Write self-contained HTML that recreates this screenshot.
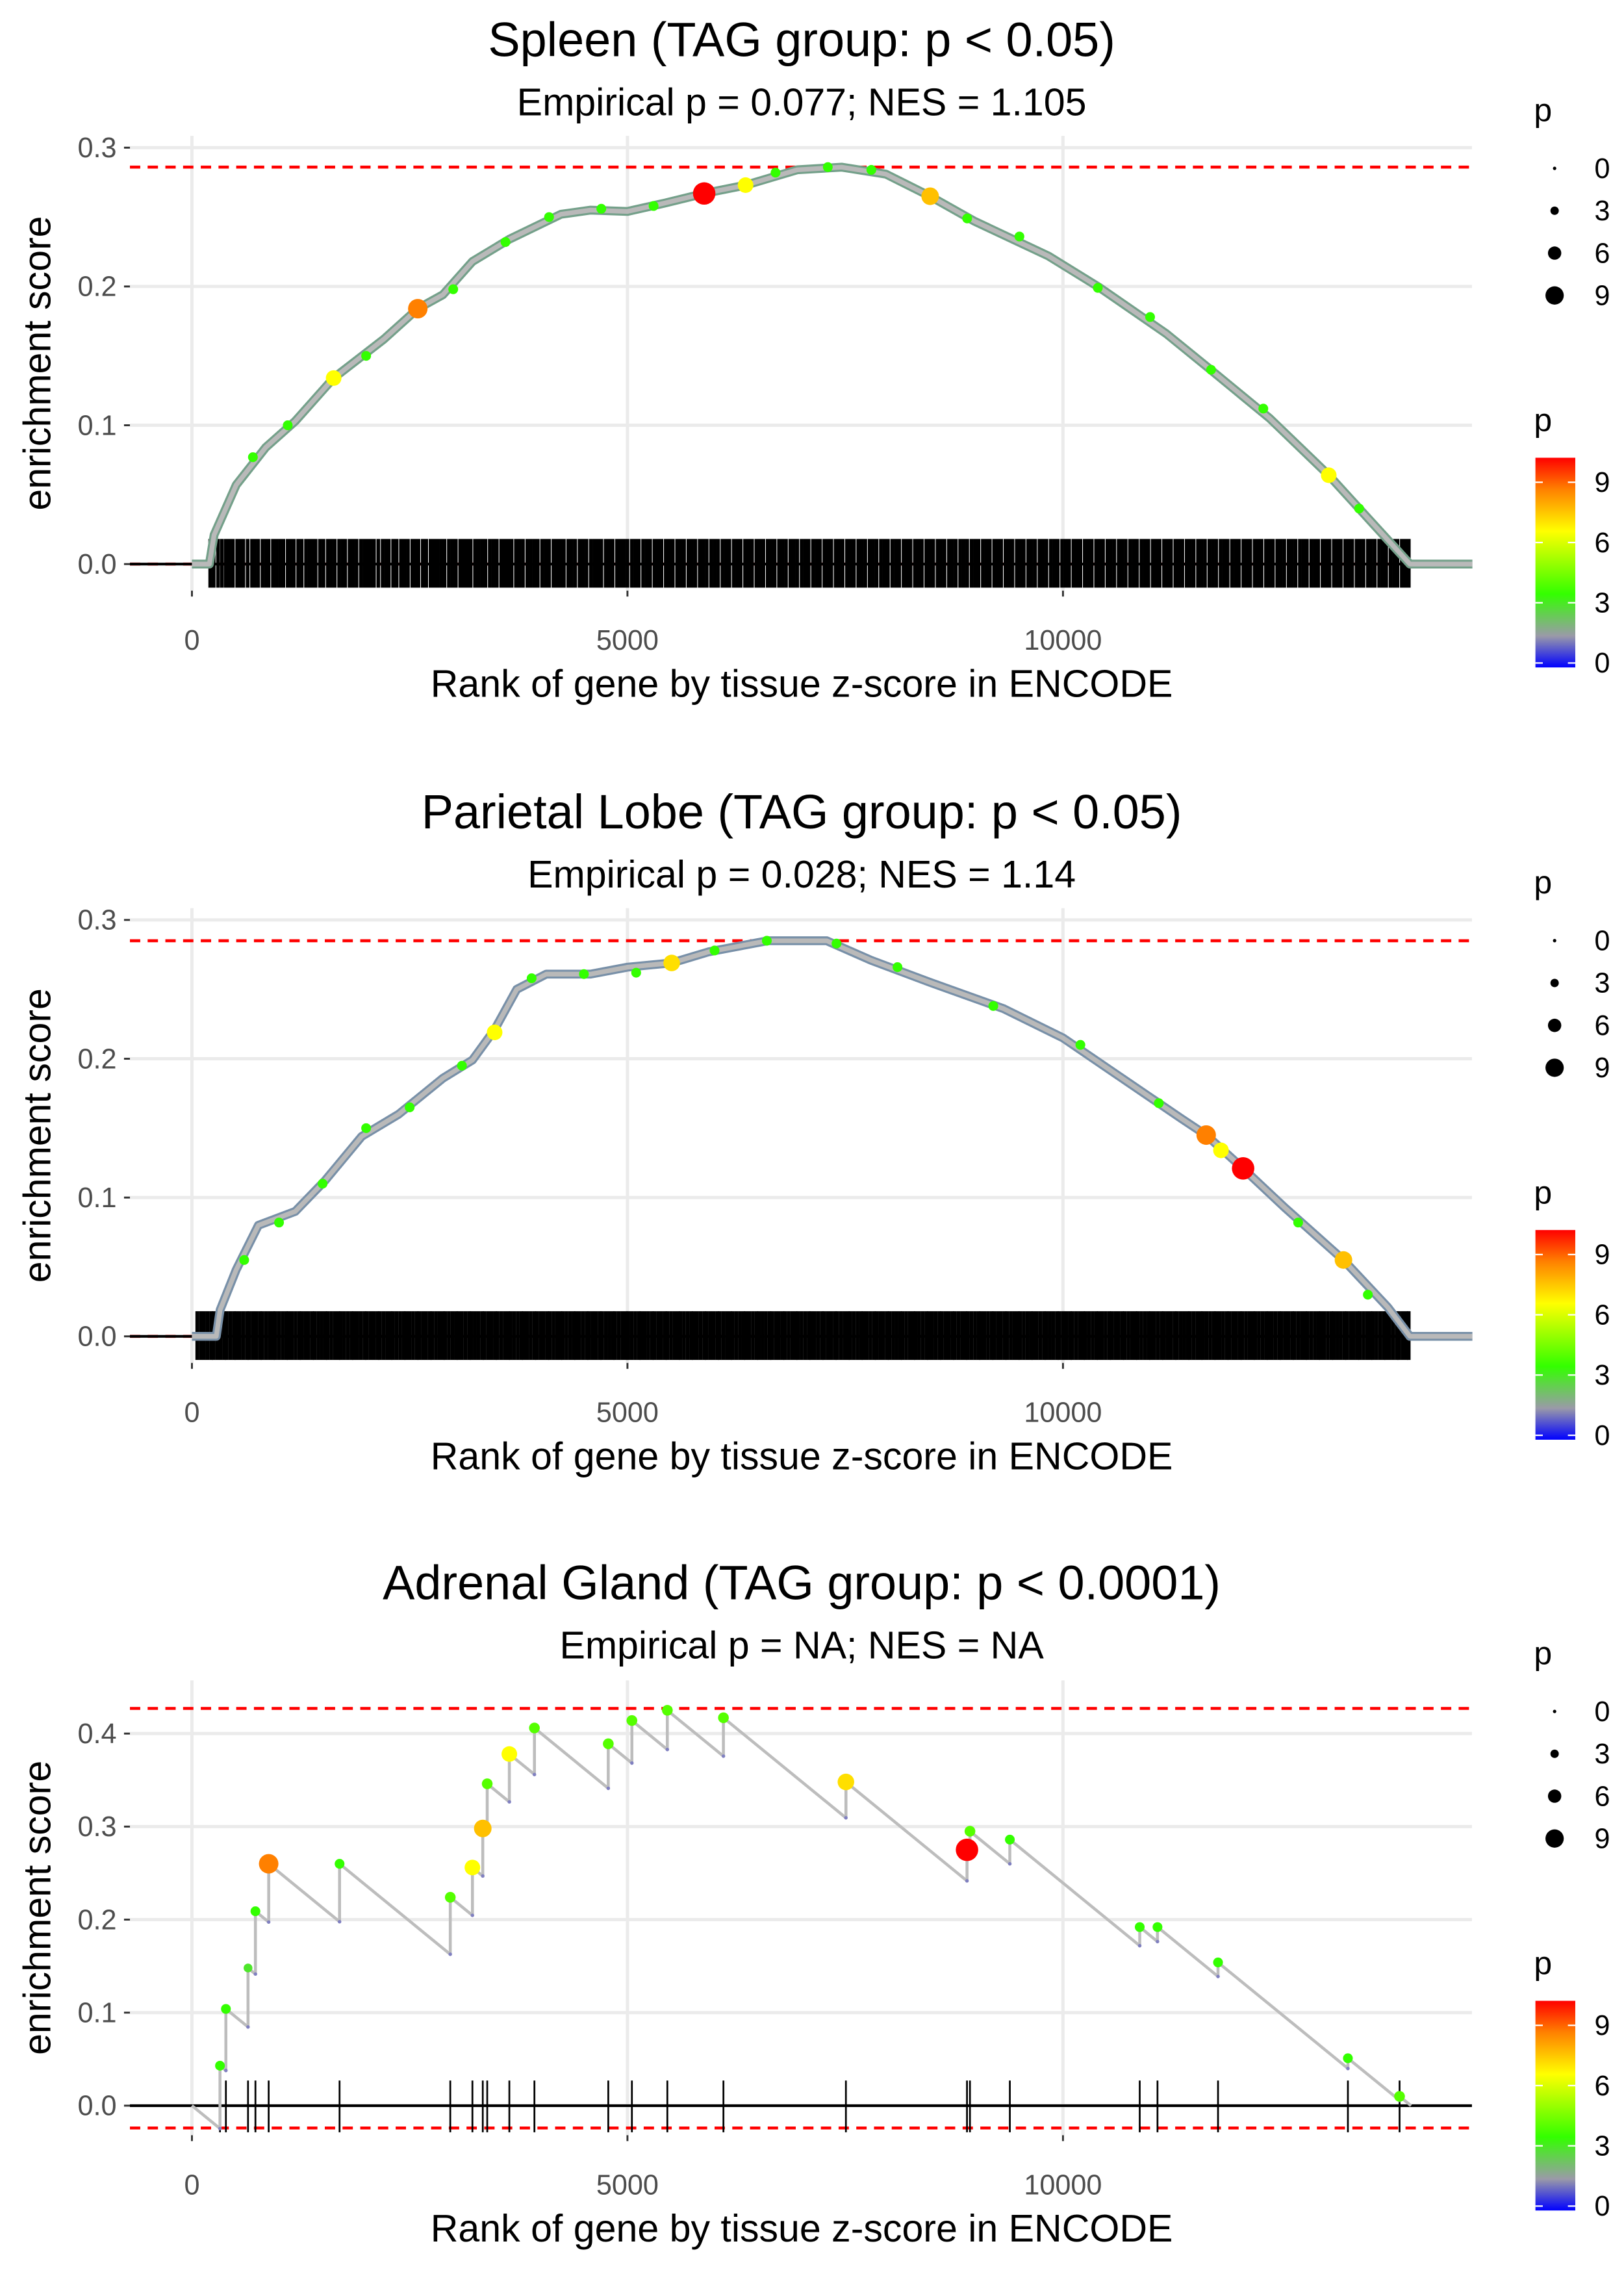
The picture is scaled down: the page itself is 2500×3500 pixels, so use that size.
<!DOCTYPE html>
<html><head><meta charset="utf-8">
<style>
html,body{margin:0;padding:0;background:#fff;}
svg{display:block;font-family:"Liberation Sans",Arial,sans-serif;}
</style></head>
<body>
<svg id="fig" width="2500" height="3500" viewBox="0 0 1100 1540" xmlns="http://www.w3.org/2000/svg">
<defs>
<linearGradient id="pgrad" x1="0" y1="1" x2="0" y2="0">
<stop offset="0" stop-color="#0000ff"/><stop offset="0.15" stop-color="#9a9aa8"/><stop offset="0.35" stop-color="#33ff00"/><stop offset="0.65" stop-color="#ffff00"/><stop offset="0.85" stop-color="#ff8000"/><stop offset="1" stop-color="#ff0000"/>
</linearGradient>
</defs>
</svg>
<script>
// ---------- Panel 1: Spleen ----------
const p1Ranks = [0,200,254,508,847,1186,1627,2203,2593,2881,3220,3644,4237,4576,5000,5424,5881,6356,6949,7458,7966,8475,8983,9831,10424,11186,11695,12373,13051,13559,13983,14700];
const p1ES    = [0,0,0.021,0.057,0.084,0.103,0.134,0.162,0.184,0.194,0.218,0.234,0.252,0.255,0.254,0.260,0.267,0.273,0.284,0.286,0.281,0.265,0.247,0.222,0.199,0.166,0.140,0.105,0.064,0.029,0,0];
const p1DotRanks = [1627,2593,5881,6356,8475,13051,700,1100,2000,3000,3600,4100,4700,5300,6700,7300,7800,8900,9500,10400,11000,11700,12300,13400];
const p1DotES    = [0.134,0.184,0.267,0.273,0.265,0.064,0.077,0.100,0.150,0.198,0.232,0.250,0.256,0.258,0.282,0.286,0.284,0.249,0.236,0.199,0.178,0.140,0.112,0.040];
const p1DotP     = [6.5,8.5,10,6.5,7.5,6.5,3.5,3.5,3.5,3.5,3.5,3.5,3.5,3.5,3.5,3.5,3.5,3.5,3.5,3.5,3.5,3.5,3.5,3.5];
const p1Hits = [210,250,300,345,390,430,470,520,560,590,640,690,720,760,810,850,880,930,970,1010,1050,1100,1140,1170,1220,1260,1310,1350,1390,1420,1470,1510,1560,1600,1640,1690,1730,1760,1810,1850,1890,1940,1980,2020,2060,2090,2140,2190,2230,2260,2310,2350,2400,2440,2480,2530,2570,2600,2650,2690,2740,2780,2820,2860,2900,2950,2990,3030,3080,3120,3160,3200,3250,3290,3330,3370,3420,3460,3500,3550,3590,3630,3670,3720,3760,3800,3850,3890,3930,3970,4020,4060,4100,4150,4190,4230,4270,4320,4360,4400,4450,4490,4530,4580,4620,4660,4700,4750,4790,4830,4880,4920,4960,5000,5050,5090,5130,5180,5220,5260,5310,5350,5390,5440,5480,5520,5570,5610,5650,5700,5740,5780,5830,5870,5910,5960,6000,6040,6090,6130,6170,6220,6260,6300,6350,6390,6430,6480,6520,6560,6610,6650,6690,6740,6780,6820,6870,6910,6950,7000,7040,7080,7130,7170,7210,7260,7300,7340,7390,7430,7470,7520,7560,7600,7650,7690,7730,7780,7820,7860,7910,7950,7990,8040,8080,8120,8170,8210,8250,8300,8340,8380,8430,8470,8510,8560,8600,8640,8690,8730,8770,8820,8860,8900,8950,8990,9030,9080,9120,9160,9210,9250,9290,9340,9380,9420,9470,9510,9550,9600,9640,9680,9730,9770,9810,9860,9900,9940,9990,10030,10070,10120,10160,10200,10250,10290,10330,10380,10420,10460,10510,10550,10590,10640,10680,10720,10770,10810,10850,10900,10940,10980,11030,11070,11110,11160,11200,11240,11290,11330,11370,11420,11460,11500,11550,11590,11630,11680,11720,11760,11810,11850,11890,11940,11980,12020,12070,12110,12150,12200,12240,12280,12330,12370,12410,12460,12500,12540,12590,12630,12670,12720,12760,12800,12850,12890,12930,12980,13020,13060,13110,13150,13190,13240,13280,13320,13370,13410,13450,13500,13540,13580,13630,13670,13710,13760,13800,13840,13890,13930,13970];

// ---------- Panel 2: Parietal Lobe ----------
const p2Ranks = [0,280,324,508,763,1186,1525,1949,2373,2881,3220,3475,3729,4068,4576,5000,5508,5932,6610,7288,7797,8475,9322,10000,10678,11356,11644,12068,12542,13220,13729,13983,14700];
const p2ES    = [0,0,0.019,0.048,0.080,0.090,0.112,0.144,0.160,0.186,0.199,0.221,0.250,0.261,0.261,0.266,0.269,0.277,0.285,0.285,0.271,0.255,0.236,0.215,0.186,0.157,0.145,0.121,0.093,0.055,0.021,0,0];
const p2DotRanks = [3475,5508,11644,11814,12068,13220,600,1000,1500,2000,2500,3100,3900,4500,5100,6000,6600,7400,8100,9200,10200,11100,12700,13500];
const p2DotES    = [0.219,0.269,0.145,0.134,0.121,0.055,0.055,0.082,0.110,0.150,0.165,0.195,0.258,0.261,0.262,0.278,0.285,0.283,0.266,0.238,0.210,0.168,0.082,0.030];
const p2DotP     = [6.5,7,8.5,6.5,10,7.5,3.5,3.5,3.5,3.5,3.5,3.5,3.5,3.5,3.5,3.5,3.5,3.5,3.5,3.5,3.5,3.5,3.5,3.5];
const p2Hits = [60,100,140,180,220,250,290,330,370,400,440,480,510,550,590,630,660,700,740,780,810,850,890,930,960,1000,1040,1080,1110,1150,1190,1230,1260,1300,1340,1380,1410,1450,1490,1530,1560,1600,1640,1680,1710,1750,1790,1830,1860,1900,1940,1980,2010,2050,2090,2130,2160,2200,2240,2280,2310,2350,2390,2430,2460,2500,2540,2580,2610,2650,2690,2730,2760,2800,2840,2880,2910,2950,2990,3030,3060,3100,3140,3180,3210,3250,3290,3330,3360,3400,3440,3480,3510,3550,3590,3630,3660,3700,3740,3780,3810,3850,3890,3930,3960,4000,4040,4080,4110,4150,4190,4230,4260,4300,4340,4380,4410,4450,4490,4530,4560,4600,4640,4680,4710,4750,4790,4830,4860,4900,4940,4980,5010,5050,5090,5130,5160,5200,5240,5280,5310,5350,5390,5430,5460,5500,5540,5580,5610,5650,5690,5730,5760,5800,5840,5880,5910,5950,5990,6030,6060,6100,6140,6180,6210,6250,6290,6330,6360,6400,6440,6480,6510,6550,6590,6630,6660,6700,6740,6780,6810,6850,6890,6930,6960,7000,7040,7080,7110,7150,7190,7230,7260,7300,7340,7380,7410,7450,7490,7530,7560,7600,7640,7680,7710,7750,7790,7830,7860,7900,7940,7980,8010,8050,8090,8130,8160,8200,8240,8280,8310,8350,8390,8430,8460,8500,8540,8580,8610,8650,8690,8730,8760,8800,8840,8880,8910,8950,8990,9030,9060,9100,9140,9180,9210,9250,9290,9330,9360,9400,9440,9480,9510,9550,9590,9630,9660,9700,9740,9780,9810,9850,9890,9930,9960,10000,10040,10080,10110,10150,10190,10230,10260,10300,10340,10380,10410,10450,10490,10530,10560,10600,10640,10680,10710,10750,10790,10830,10860,10900,10940,10980,11010,11050,11090,11130,11160,11200,11240,11280,11310,11350,11390,11430,11460,11500,11540,11580,11610,11650,11690,11730,11760,11800,11840,11880,11910,11950,11990,12030,12060,12100,12140,12180,12210,12250,12290,12330,12360,12400,12440,12480,12510,12550,12590,12630,12660,12700,12740,12780,12810,12850,12890,12930,12960,13000,13040,13080,13110,13150,13190,13230,13260,13300,13340,13380,13410,13450,13490,13530,13560,13600,13640,13680,13710,13750,13790,13830,13860,13900,13940,13970];

// ---------- Panel 3: Adrenal Gland ----------
const p3Hits = [322,390,644,729,881,1695,2966,3220,3339,3390,3644,3932,4780,5051,5458,6102,7508,8898,8932,9390,10881,11085,11780,13271,13864];
const p3Tops = [0.043,0.104,0.148,0.209,0.260,0.260,0.224,0.256,0.298,0.346,0.378,0.406,0.389,0.414,0.425,0.417,0.348,0.275,0.295,0.286,0.192,0.192,0.154,0.051,0.010];
const p3P    = [3.5,3.5,3,3.5,8.5,3.5,4,6.5,7.5,4,6.5,4,4,4,4,4,7,10,4,3.5,3.5,3.5,3.5,3.5,4];
const p3Step = 0.0000765;
const p3Max = 0.427, p3Min = -0.024;

const xTicks = [0,5000,10000];
const xTickLabels = ["0","5000","10000"];
const y12Ticks = [0,0.1,0.2,0.3];
const y3Ticks = [0,0.1,0.2,0.3,0.4];
const legendSizes = [0,3,6,9];
const colorbarTicks = [0,3,6,9];

const svg = document.getElementById('fig');
const NS = 'http://www.w3.org/2000/svg';
function mk(tag, attrs, parent){ const e=document.createElementNS(NS,tag); for(const k in attrs) e.setAttribute(k,attrs[k]); (parent||svg).appendChild(e); return e; }
function txt(s, attrs, parent){ const e=mk('text',attrs,parent); e.textContent=s; return e; }

function pColor(p){
  const st=[[0,[0,0,255]],[1.5,[154,154,168]],[3.5,[51,255,0]],[6.5,[255,255,0]],[8.5,[255,128,0]],[10,[255,0,0]]];
  for(let i=1;i<st.length;i++){ if(p<=st[i][0]){ const a=st[i-1],b=st[i],t=(p-a[0])/(b[0]-a[0]); const c=a[1].map((v,j)=>Math.round(v+(b[1][j]-v)*t)); return `rgb(${c[0]},${c[1]},${c[2]})`; } }
  return 'rgb(255,0,0)';
}
function pRadius(p){ return 1.0 + p*0.66; }

const X0=88, X1=997;
function xs(r){ return 130 + r*0.059; }

function panel(cfg){
  const g = mk('g',{});
  
  
  const ys = v => cfg.y0 - v*cfg.k;
  const t=txt(cfg.title,{x:543,y:cfg.top+38,'font-size':32.5,'text-anchor':'middle',fill:'#000'},g);
   
  const st=txt(cfg.sub,{x:543,y:cfg.top+78,'font-size':26,'text-anchor':'middle',fill:'#000'},g);
   
  const gg=mk('g',{},g);  
  cfg.yt.forEach(v=>{ mk('line',{x1:X0,x2:X1,y1:ys(v),y2:ys(v),stroke:'#ebebeb','stroke-width':2.2},gg); });
  xTicks.forEach(v=>{ mk('line',{x1:xs(v),x2:xs(v),y1:cfg.pTop,y2:cfg.pBot,stroke:'#ebebeb','stroke-width':2.2},gg); });
  const ya=mk('g',{},g);  
  cfg.yt.forEach(v=>{ mk('line',{x1:84,x2:88,y1:ys(v),y2:ys(v),stroke:'#333','stroke-width':1.3},ya);
    const l=txt(v.toFixed(1),{x:79,y:ys(v)+6.5,'font-size':19,'text-anchor':'end',fill:'#4d4d4d'},ya);
      });
  const yt=txt('enrichment score',{x:0,y:0,'font-size':26,'text-anchor':'middle',fill:'#000',transform:`translate(34,${(cfg.pTop+cfg.pBot)/2}) rotate(-90)`},g);
   
  const xa=mk('g',{},g);  
  xTicks.forEach((v,i)=>{ mk('line',{x1:xs(v),x2:xs(v),y1:cfg.pBot,y2:cfg.pBot+4,stroke:'#333','stroke-width':1.3},xa);
    const l=txt(xTickLabels[i],{x:xs(v),y:cfg.pBot+40,'font-size':19,'text-anchor':'middle',fill:'#4d4d4d'},xa);
      });
  const xt=txt('Rank of gene by tissue z-score in ENCODE',{x:543,y:cfg.pBot+72,'font-size':26,'text-anchor':'middle',fill:'#000'},g);
   
  cfg.dash.forEach(v=>{ const d=mk('line',{x1:X0,x2:X1,y1:ys(v),y2:ys(v),stroke:'#ff0000','stroke-width':2,'stroke-dasharray':'7 5'},g);
      });
  const rug=mk('g',{},g);  
  cfg.hits.forEach(r=>{ mk('line',{x1:xs(r),x2:xs(r),y1:cfg.rug[0],y2:cfg.rug[1],stroke:'#000','stroke-width':cfg.rugW},rug); });
  const z=mk('line',{x1:X0,x2:X1,y1:ys(0),y2:ys(0),stroke:'#000','stroke-width':1.8},g);
   
  const pts = cfg.curve.map(([r,e])=>xs(r).toFixed(1)+','+ys(e).toFixed(1)).join(' ');
  const c1=mk('polyline',{points:pts,fill:'none',stroke:cfg.outer,'stroke-width':cfg.ow,'stroke-linejoin':'round'},g);
   
  const c2=mk('polyline',{points:pts,fill:'none',stroke:cfg.inner,'stroke-width':cfg.iw,'stroke-linejoin':'round'},g);
   
  if(cfg.bottoms){ cfg.bottoms.forEach(([r,e])=>{ const b=mk('circle',{cx:xs(r),cy:ys(e),r:1.2,fill:'#8080c0'},g);
      }); }
  const order = cfg.dots.map((d,i)=>i).sort((a,b)=>cfg.dots[a][2]-cfg.dots[b][2]);
  order.forEach(i=>{ const [r,e,p]=cfg.dots[i];
    const d=mk('circle',{cx:xs(r),cy:ys(e),r:pRadius(p),fill:pColor(p)},g);
      });
  const lg=mk('g',{},g);  
  txt('p',{x:1039,y:cfg.top+82,'font-size':22,fill:'#000'},lg);
  legendSizes.forEach((s,i)=>{ const yy=cfg.top+114+i*28.7;
    mk('circle',{cx:1053,cy:yy,r:pRadius(s)*0.85+0.3,fill:'#000'},lg);
    const l=txt(String(s),{x:1080,y:yy+6.5,'font-size':19,fill:'#000'},lg);
      });
  const cb=mk('g',{},g);  
  txt('p',{x:1039,y:cfg.top+292,'font-size':22,fill:'#000'},cb);
  const cbTop=cfg.top+310, cbBot=cfg.top+452;
  mk('rect',{x:1040,y:cbTop,width:27,height:cbBot-cbTop,fill:'url(#pgrad)'},cb);
  colorbarTicks.forEach(v=>{ const yy=cbBot-3-v*(cbBot-cbTop-6)/10;
    mk('line',{x1:1040,x2:1045,y1:yy,y2:yy,stroke:'#fff','stroke-width':1},cb);
    mk('line',{x1:1062,x2:1067,y1:yy,y2:yy,stroke:'#fff','stroke-width':1},cb);
    const l=txt(String(v),{x:1080,y:yy+6.5,'font-size':19,fill:'#000'},cb);
      });
}

panel({name:'panel-spleen',title:'Spleen (TAG group: p < 0.05)',sub:'Empirical p = 0.077; NES = 1.105',
  top:0,y0:382,k:940,pTop:92,pBot:400,yt:y12Ticks,dash:[Math.max(...p1ES),0],hits:p1Hits,rug:[365,398],rugW:2.5,
  curve:p1Ranks.map((r,i)=>[r,p1ES[i]]),outer:'#74a08a',inner:'#b9b9b9',ow:6,iw:3.2,
  dots:p1DotRanks.map((r,i)=>[r,p1DotES[i],p1DotP[i]])});
panel({name:'panel-parietal-lobe',title:'Parietal Lobe (TAG group: p < 0.05)',sub:'Empirical p = 0.028; NES = 1.14',
  top:523,y0:905,k:940,pTop:615,pBot:923,yt:y12Ticks,dash:[Math.max(...p2ES),0],hits:p2Hits,rug:[888,921],rugW:2.4,
  curve:p2Ranks.map((r,i)=>[r,p2ES[i]]),outer:'#7890a8',inner:'#b9b9b9',ow:6,iw:3.2,
  dots:p2DotRanks.map((r,i)=>[r,p2DotES[i],p2DotP[i]])});
const p3Curve=[[0,0]], p3Bottoms=[];
let prevR=0, prevE=0;
p3Hits.forEach((r,i)=>{ const b=prevE - p3Step*(r-prevR); p3Curve.push([r,b]); p3Bottoms.push([r,b]); p3Curve.push([r,p3Tops[i]]); prevR=r; prevE=p3Tops[i]; });
p3Curve.push([prevR+prevE/p3Step,0]);
panel({name:'panel-adrenal-gland',title:'Adrenal Gland (TAG group: p < 0.0001)',sub:'Empirical p = NA; NES = NA',
  top:1045,y0:1426,k:630,pTop:1138,pBot:1446,yt:y3Ticks,dash:[p3Max,p3Min],hits:p3Hits,rug:[1409,1444],rugW:1.2,
  curve:p3Curve,outer:'#bdbdbd',inner:'#bdbdbd',ow:2,iw:1.6,bottoms:p3Bottoms,
  dots:p3Hits.map((r,i)=>[r,p3Tops[i],p3P[i]])});
</script>
</body></html>
